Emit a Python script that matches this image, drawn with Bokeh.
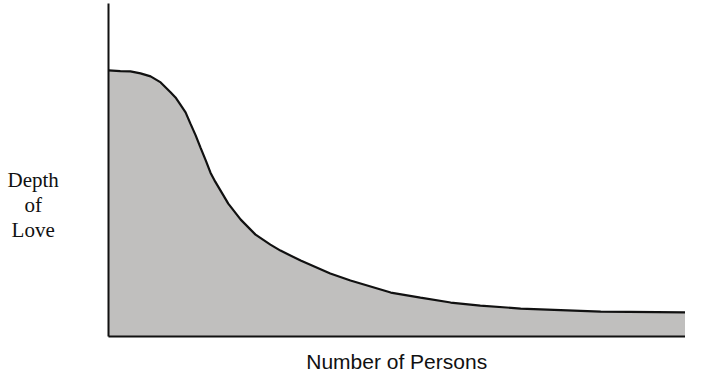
from bokeh.plotting import figure
from bokeh.models import Label, FixedTicker, Range1d
from bokeh.embed import file_html
from bokeh.resources import INLINE

# Number of persons (arbitrary units) and depth of love (arbitrary units)
persons = [0.0, 2.0, 3.7, 5.4, 7.1, 8.8, 10.5, 11.3, 12.1, 13.0, 13.8, 14.7, 15.5,
           16.4, 17.2, 18.0, 19.2, 20.2, 22.3, 24.8, 27.3, 29.0, 32.4, 37.4, 40.8,
           47.6, 52.6, 57.7, 62.7, 69.5, 83.0, 100.0]
depth = [79.9, 79.7, 79.6, 79.0, 78.1, 76.3, 73.3, 71.8, 69.7, 67.3, 64.0, 60.4, 56.8,
         52.9, 49.2, 46.5, 42.9, 39.9, 35.1, 30.6, 27.6, 25.8, 22.8, 18.9, 16.8,
         13.2, 11.7, 10.2, 9.3, 8.4, 7.5, 7.2]

x_title = "Number of Persons"
y_title_lines = ["Depth", "of", "Love"]

p = figure(width=685, height=372, output_backend="svg", toolbar_location=None,
           x_range=Range1d(-18.21, 97.30), y_range=Range1d(-10.81, 100.9),
           min_border=0)
p.outline_line_color = None
p.grid.visible = False
p.background_fill_color = "white"
p.border_fill_color = "white"

for ax in (p.xaxis[0], p.yaxis[0]):
    ax.ticker = FixedTicker(ticks=[])
    ax.major_tick_line_color = None
    ax.minor_tick_line_color = None
    ax.major_label_text_font_size = "0px"
    ax.axis_line_width = 2
    ax.axis_line_color = "#111111"
    ax.fixed_location = 0
    ax.bounds = (0, 100)

p.varea(x=persons, y1=0, y2=depth, fill_color="#c0bfbe", fill_alpha=1.0)
p.line(x=persons, y=depth, line_color="#111111", line_width=2.2)

p.add_layout(Label(x=48.6, y=-7.6, text=x_title, text_align="center",
                   text_baseline="alphabetic", text_font="Liberation Sans",
                   text_font_size="21px", text_color="#111111"))

ys = [47.0, 39.5, 32.0]
for t, yy in zip(y_title_lines, ys):
    p.add_layout(Label(x=-12.7, y=yy, text=t, text_align="center",
                       text_baseline="alphabetic", text_font="Liberation Serif",
                       text_font_size="21px", text_color="#111111"))

open("out.html", "w").write(file_html(p, INLINE))
